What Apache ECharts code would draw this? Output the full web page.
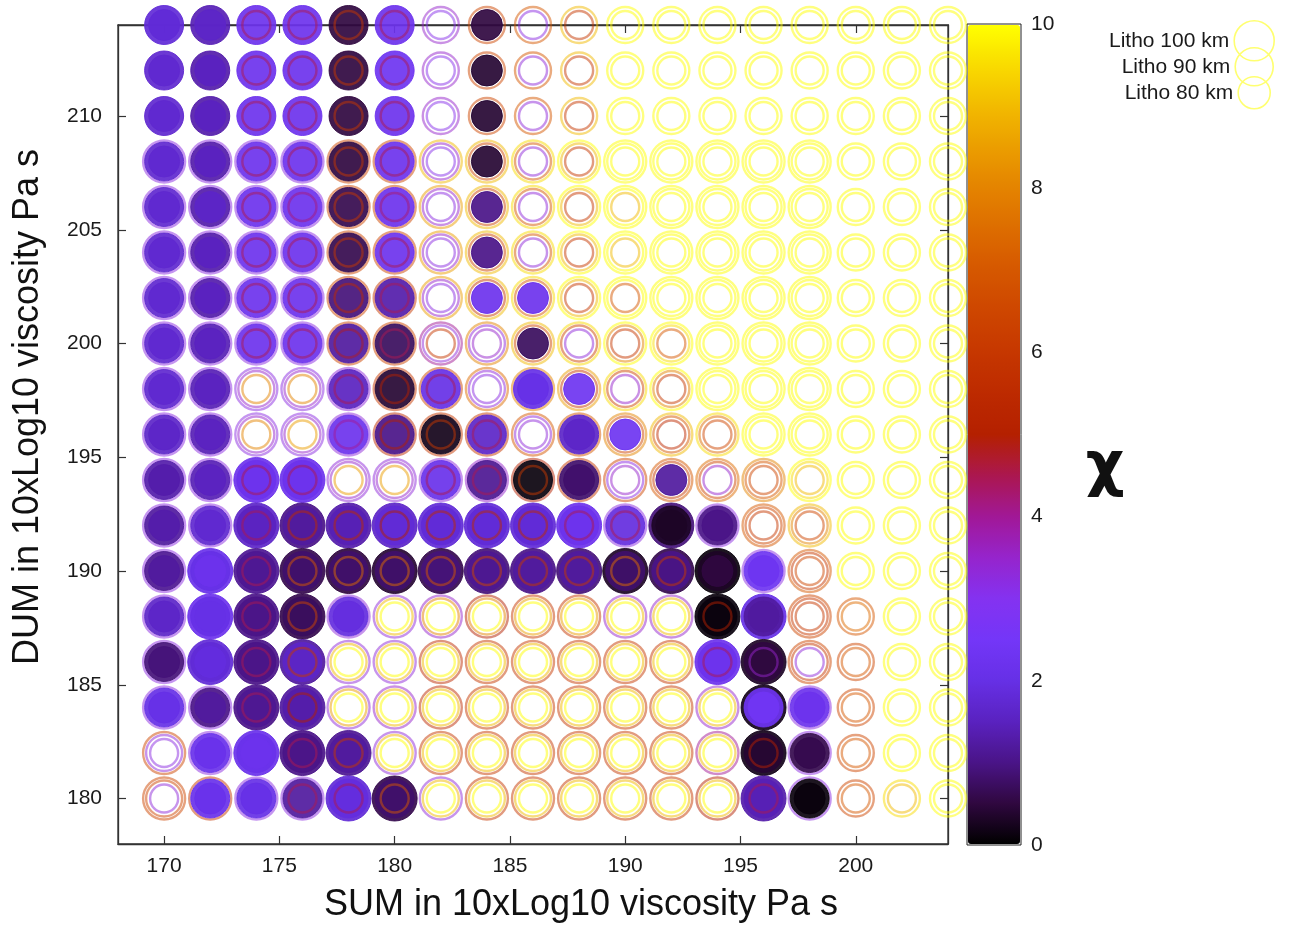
<!DOCTYPE html>
<html>
<head>
<meta charset="utf-8">
<script src="https://cdn.jsdelivr.net/npm/echarts@6/dist/echarts.min.js"></script>
<style>html,body{margin:0;padding:0;background:#fff}#c{width:1297px;height:931px}</style>
</head>
<body>
<div id="c"></div>
<script>
// ---- data ----
const SUM = [170,172,174,176,178,180,182,184,186,188,190,192,194,196,198,200,202,204];
const DUM = [214,212,210,208,206,204,202,200,198,196,194,192,190,188,186,184,182,180];
const N = null;
const chi100 = [
 [N,N,N,N,N,N,N,N,N,N,N,N,N,N,N,N,N,N],
 [N,N,N,N,N,N,N,N,N,N,N,N,N,N,N,N,N,N],
 [N,N,N,N,N,N,N,N,N,N,N,N,N,N,N,N,N,N],
 [3.2,3.2,3.2,3.2,6.5,6.5,9,9,9.5,10,10,10,10,10,10,N,N,N],
 [3.2,3.2,3.2,3.2,6.5,6.5,8.5,9,9.5,10,10,10,10,10,10,N,N,N],
 [3.2,3.2,3.2,3.2,6.5,6.5,8.5,9,9.5,10,10,10,10,10,10,N,N,N],
 [3.2,3.2,3.2,3.2,6.5,6,8.5,9,9.5,10,10,10,10,10,10,N,N,N],
 [3.2,3.2,3.2,3.2,6.5,6.5,4,8,9,9.5,10,10,10,10,10,N,N,N],
 [3.2,3.2,3.2,3.2,3.3,6,6.5,7.5,8,8.5,9.5,10,10,10,10,N,N,N],
 [3.2,3.2,3.2,3.2,3.3,5.5,6,6,7,7,8,9,9.5,10,10,N,N,N],
 [3.2,3.2,2.2,2.2,3.3,3.3,3.3,3.5,5,6,6.5,7,7.5,8,10,N,N,N],
 [3.2,3.2,1.6,1.0,1.3,1.6,1.8,1.8,1.8,2.2,3.2,0.9,3.2,7,9,N,N,N],
 [3.2,2.1,1.1,0.6,0.5,0.4,0.6,0.9,1.0,0.9,0.3,0.6,0.1,3.2,7,N,N,N],
 [3.2,2.2,1.0,0.6,3.3,3.3,3.5,5,6,6,3.5,3.5,0.1,2.0,6.5,N,N,N],
 [3.2,1.8,1.0,1.2,3.3,3.3,5.5,6,6,6,6,6,2.2,0.3,6.5,N,N,N],
 [3.2,3.2,1.0,1.2,3.3,3.5,5.5,6,6,6,6,6,3.5,0.2,3.2,N,N,N],
 [6.5,3.2,2.1,1.0,1.1,3.3,6,6,6,6,6,6,4,0.2,3.2,N,N,N],
 [6.5,6,3.2,3.2,1.8,0.6,3.3,6,6,6,6,6,5,1.3,3.2,N,N,N]
];
const chi90 = [
 [1.8,1.4,2.2,2.2,0.5,2.2,3.5,6.5,7,9,10,10,10,10,10,10,10,10],
 [1.7,1.3,2.2,2.2,0.5,2.3,3.5,6.5,7,9,10,10,10,10,10,10,10,10],
 [1.7,1.3,2.2,2.2,0.5,2.2,3.5,6.5,7,9,10,10,10,10,10,10,10,10],
 [1.7,1.3,2.2,2.2,0.5,2.2,3.5,6.5,7,9,10,10,10,10,10,10,10,10],
 [1.7,1.3,2.2,2.2,0.6,2.2,3.5,6.5,7,9,10,10,10,10,10,10,10,10],
 [1.7,1.3,2.2,2.2,0.6,2.2,3.5,6.5,7,9,10,10,10,10,10,10,10,10],
 [1.7,1.3,2.2,2.2,0.9,1.3,3.5,6,7,9,10,10,10,10,10,10,10,10],
 [1.7,1.4,2.2,2.2,1.2,0.7,3.3,3.3,6.5,6.5,8,9.5,10,10,10,10,10,10],
 [1.7,1.4,3.5,3.5,1.5,0.4,2.0,3.3,2.0,6,6.5,8,10,10,10,10,10,10],
 [1.6,1.4,3.5,3.5,2.2,1.0,0.2,1.6,3.3,1.6,6.5,7,7.5,10,10,10,10,10],
 [1.3,1.4,2.2,2.2,3.5,3.5,2.1,1.1,0.1,0.8,3.2,6,6.5,7,9.5,10,10,10],
 [1.2,1.7,1.5,1.2,1.4,1.8,1.8,1.8,1.8,2.2,1.9,0.3,1.0,6.5,8,10,10,10],
 [1.1,2.0,1.1,0.8,0.8,0.8,0.9,1.1,1.2,1.2,0.8,1.0,0.3,2.3,6,10,10,10],
 [1.6,2.0,1.0,0.7,1.9,9,8,8,8.5,8.5,9,9,0.1,1.2,6,7,10,10],
 [0.9,1.8,1.0,1.6,9,9,9,9,9,9,9,9,2.2,0.5,6,6.5,10,10],
 [2.0,1.0,1.1,1.3,8.5,9,9,9,9,9,9,9,9,2.3,2.2,6.5,10,10],
 [3.3,2.1,2.1,1.0,1.2,9,9,9,9,9,9,9,9,0.4,0.6,6.5,10,10],
 [6.5,2.1,2.0,1.2,1.9,0.8,9,9,9,9,9,9,9,1.4,0.1,6.5,9.5,10]
];
const chi80 = [
 [1.8,1.6,4.5,4.5,6,4.5,3.1,0.5,3.2,6,10,10,10,10,10,10,10,10],
 [1.7,1.5,4.5,4.5,6,4.5,3.1,0.4,3.3,6,10,10,10,10,10,10,10,10],
 [1.7,1.5,4.5,4.5,6,4.5,3.1,0.4,3.3,6,10,10,10,10,10,10,10,10],
 [1.7,1.5,4.5,4.5,6,4.5,3.1,0.4,3.3,6,10,10,10,10,10,10,10,10],
 [1.7,1.6,4.5,4.2,6,4.3,3.2,1.0,3.3,6,9,10,10,10,10,10,10,10],
 [1.7,1.5,4.5,4.5,6,4.5,3.2,1.0,3.3,6,9,10,10,10,10,10,10,10],
 [1.7,1.5,4.5,4.5,5.5,4.5,3.2,2.2,2.2,6,7,10,10,10,10,10,10,10],
 [1.7,1.5,4.5,4.5,4.8,4.5,6,3.5,0.7,3.3,6,7,10,10,10,10,10,10],
 [1.7,1.5,8,8,4.5,5,4.5,3.2,2.0,2.3,3.5,6,10,10,10,10,10,10],
 [1.6,1.5,8,8.5,4,5,6,4.5,3.3,1.6,2.3,5.5,6.5,10,10,10,10,10],
 [1.3,1.5,4.5,4.5,8.5,8.5,4.5,4.5,6,0.8,3.5,1.2,3.5,6.5,9,10,10,10],
 [1.3,1.7,4.5,5.5,5.5,5,5.5,5.5,5.5,4.5,4.5,0.3,1.0,6,6.5,10,10,10],
 [1.2,2.2,4.5,7,7.5,7.5,7,6.5,6,6,7.5,6,0.5,2.3,6.5,10,10,10],
 [1.6,2.0,4.5,6.5,1.9,10,10,10,10,10,10,10,5,1.2,6,7.5,10,10],
 [0.9,1.9,4.5,6,10,10,10,10,10,10,10,10,4.5,3.5,3.3,7,10,10],
 [2.0,1.2,4.5,5,10,10,10,10,10,10,10,10,10,2.4,2.2,7,10,10],
 [3.2,2.1,2.2,4.5,6,10,10,10,10,10,10,10,10,5,0.6,7,10,10],
 [3.3,2.1,2.0,4.5,4.5,7,10,10,10,10,10,10,10,4.5,0.1,7,9,10]
];
const X_TICKS = [170,175,180,185,190,195,200];
const Y_TICKS = [180,185,190,195,200,205,210];
const CB_TICKS = [0,2,4,6,8,10];
const X_TITLE = 'SUM in 10xLog10 viscosity Pa s';
const Y_TITLE = 'DUM in 10xLog10 viscosity Pa s';
const CB_TITLE = 'χ';

// ---- style ----
const FONT = "'Liberation Sans', Arial, Helvetica, sans-serif";
const PALETTE = ['#000000','#300840','#4a1488','#5a22c0','#6630e6','#7436f8','#8432f0','#9624cc','#a11896','#ab174f','#b42000','#bd2a00','#c63700','#ce4600','#d55700','#dd6c00','#e48300','#eb9d00','#f2ba00','#f9db00','#ffff00'];
const FILL_BELOW = 2.6;

function toData(m){
  const out = [];
  m.forEach((row,i)=>row.forEach((v,j)=>{ if(v!==null) out.push([SUM[j], DUM[i], v]); }));
  return out;
}
function renderer(diam){
  return function(params, api){
    const c = api.coord([api.value(0), api.value(1)]);
    const v = api.value(2);
    const color = api.visual('color');
    if (v < FILL_BELOW) {
      return {type:'circle', shape:{cx:c[0], cy:c[1], r:diam/2},
        style:{fill:color, stroke:color, lineWidth:1, opacity:0.92}};
    }
    return {type:'circle', shape:{cx:c[0], cy:c[1], r:diam/2 - 1.5},
      style:{fill:null, stroke:color, lineWidth:2.4, opacity:0.5}};
  };
}
const layers = [
  {name:'Litho 100 km', m:chi100, d:45},
  {name:'Litho 90 km',  m:chi90,  d:39},
  {name:'Litho 80 km',  m:chi80,  d:31}
];
const tickStyle = {inside:true, length:8, lineStyle:{color:'#333', width:1.2}};
const axisLineStyle = {show:true, lineStyle:{color:'#333', width:1.3}};
const labelStyle = {fontFamily:FONT, fontSize:21, color:'#1a1a1a'};

const chart = echarts.init(document.getElementById('c'), null, {renderer:'canvas'});
const legendBase = {orient:'vertical', align:'right', padding:0, selectedMode:false,
  textStyle:{fontFamily:FONT, fontSize:21, color:'#1a1a1a'}};
const legendIcon = {color:'rgba(0,0,0,0)', borderColor:'#ffff70', borderWidth:1.6};
chart.setOption({
  animation:false,
  backgroundColor:'#ffffff',
  grid:[
    {left:118, top:25, width:830, height:819, show:true, borderColor:'#333', borderWidth:1.3, backgroundColor:'transparent'},
    {left:967, top:24, width:54, height:821, show:true, borderColor:'#222', borderWidth:1, backgroundColor:'transparent'}
  ],
  xAxis:[
    {gridIndex:0, type:'value', min:168, max:204, position:'bottom',
     axisLine:axisLineStyle, axisTick:Object.assign({customValues:X_TICKS}, tickStyle),
     axisLabel:Object.assign({customValues:X_TICKS, margin:12}, labelStyle), splitLine:{show:false}},
    {gridIndex:0, type:'value', min:168, max:204, position:'top',
     axisLine:axisLineStyle, axisTick:Object.assign({customValues:X_TICKS}, tickStyle),
     axisLabel:{show:false, customValues:X_TICKS}, splitLine:{show:false}},
    {gridIndex:1, type:'value', min:0, max:1, show:false}
  ],
  yAxis:[
    {gridIndex:0, type:'value', min:178, max:214, position:'left',
     axisLine:axisLineStyle, axisTick:Object.assign({customValues:Y_TICKS}, tickStyle),
     axisLabel:Object.assign({customValues:Y_TICKS, margin:16}, labelStyle), splitLine:{show:false}},
    {gridIndex:0, type:'value', min:178, max:214, position:'right',
     axisLine:axisLineStyle, axisTick:Object.assign({customValues:Y_TICKS}, tickStyle),
     axisLabel:{show:false, customValues:Y_TICKS}, splitLine:{show:false}},
    {gridIndex:1, type:'value', min:0, max:10, position:'right',
     axisLine:{show:false}, axisTick:{show:false},
     axisLabel:Object.assign({customValues:CB_TICKS, margin:10}, labelStyle), splitLine:{show:false}}
  ],
  visualMap:{
    type:'continuous', min:0, max:10, dimension:2, seriesIndex:[0,1,2],
    inRange:{color:PALETTE}, orient:'vertical', left:968, top:25,
    itemWidth:52, itemHeight:819, calculable:false, hoverLink:false, padding:0,
    showLabel:false, text:null, z:3
  },
  legend:[
    Object.assign({data:[{name:'Litho 100 km', icon:'circle', itemStyle:legendIcon}], right:22, top:20, itemWidth:40, itemHeight:40}, legendBase),
    Object.assign({data:[{name:'Litho 90 km', icon:'circle', itemStyle:legendIcon}], right:23, top:47, itemWidth:38, itemHeight:38}, legendBase),
    Object.assign({data:[{name:'Litho 80 km', icon:'circle', itemStyle:legendIcon}], right:26, top:76, itemWidth:32, itemHeight:32}, legendBase)
  ],
  graphic:[
    {type:'text', x:581, y:905, style:{text:X_TITLE, font:"36px 'Liberation Sans', Arial, sans-serif", fill:'#111', align:'center', verticalAlign:'middle'}},
    {type:'text', x:28, y:407, rotation:Math.PI/2, style:{text:Y_TITLE, font:"36px 'Liberation Sans', Arial, sans-serif", fill:'#111', align:'center', verticalAlign:'middle'}},
    {type:'text', x:1105, y:468, style:{text:CB_TITLE, font:"bold 60px 'DejaVu Sans', 'Liberation Sans', sans-serif", fill:'#111', align:'center', verticalAlign:'middle'}}
  ],
  series: layers.map(L => ({
    type:'custom', name:L.name, xAxisIndex:0, yAxisIndex:0, clip:false,
    encode:{x:0, y:1}, data:toData(L.m), renderItem:renderer(L.d)
  }))
});
</script>
</body>
</html>
